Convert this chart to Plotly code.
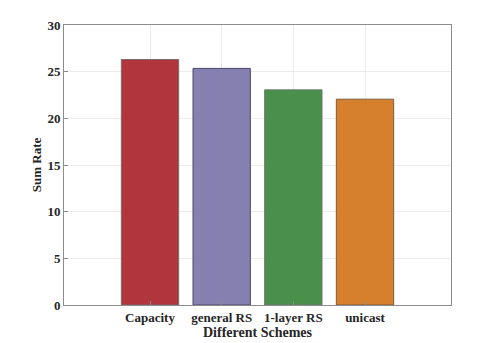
import plotly.graph_objects as go

schemes = ["Capacity", "general RS", "1-layer RS", "unicast"]
sum_rate = [26.3, 25.35, 23.05, 22.05]
bar_colors = ["#B0353D", "#8580B0", "#4A8F4A", "#D67F2D"]
edge_colors = ["#7a6a6a", "#4a4668", "#6a7a6a", "#7a5a40"]

fig = go.Figure(go.Bar(
    x=schemes, y=sum_rate, width=0.8,
    marker=dict(color=bar_colors, line=dict(color=edge_colors, width=1)),
))

# page has an 8px body margin, so the figure is a bit smaller than the window
font = dict(family="Liberation Serif", size=13, color="#262626")
fig.update_layout(
    width=490, height=335,
    margin=dict(l=56, r=47, t=17, b=38),
    plot_bgcolor="white", paper_bgcolor="white",
    font=font, showlegend=False,
)
fig.update_xaxes(
    range=[-1.2, 4.2], showgrid=True, gridcolor="#ececec", gridwidth=1,
    showline=True, linecolor="#8c8c8c", linewidth=1, mirror=True,
    ticks="inside", ticklen=4, tickcolor="#8c8c8c", automargin=False,
    tickfont=dict(family="Liberation Serif", size=13, color="#262626"),
    title=dict(text="<b>Different Schemes</b>", standoff=0,
               font=dict(family="Liberation Serif", size=14, color="#262626")),
    tickprefix="<b>", ticksuffix="</b>",
)
fig.update_yaxes(
    range=[0, 30], dtick=5, showgrid=True, gridcolor="#ececec", gridwidth=1,
    showline=True, linecolor="#8c8c8c", linewidth=1, mirror=True,
    ticks="inside", ticklen=4, tickcolor="#8c8c8c", zeroline=False,
    automargin=False,
    tickfont=dict(family="Liberation Serif", size=13, color="#262626"),
    tickprefix="<b>", ticksuffix="</b>",
    title=dict(text="<b>Sum Rate</b>", standoff=2,
               font=dict(family="Liberation Serif", size=13, color="#262626")),
)

fig.write_html("out.html")
